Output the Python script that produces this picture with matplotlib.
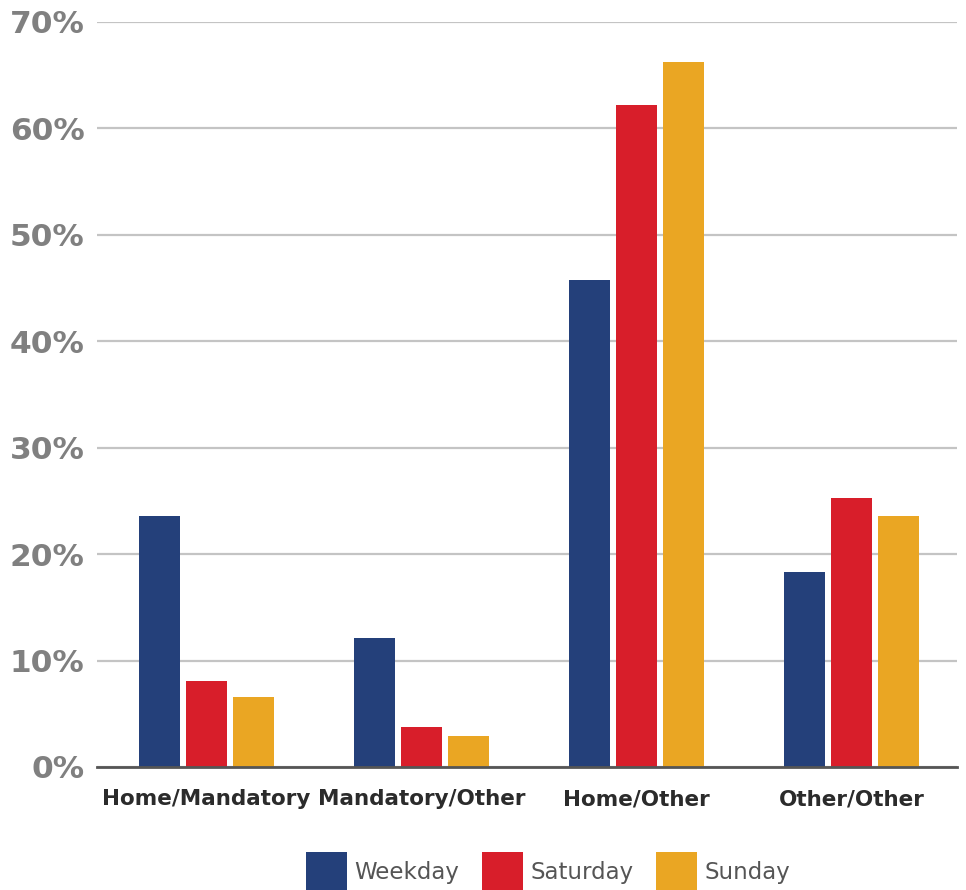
import matplotlib
matplotlib.use("Agg")
import matplotlib.pyplot as plt
import numpy as np

categories = ["Home/Mandatory", "Mandatory/Other", "Home/Other", "Other/Other"]
weekday = [23.6, 12.1, 45.8, 18.3]
saturday = [8.1, 3.8, 62.2, 25.3]
sunday = [6.6, 2.9, 66.2, 23.6]
series_names = ["Weekday", "Saturday", "Sunday"]
colors = ["#24407a", "#d81e2a", "#eaa623"]
yticks = [0, 10, 20, 30, 40, 50, 60, 70]
ytick_labels = ["0%", "10%", "20%", "30%", "40%", "50%", "60%", "70%"]

fig = plt.figure(figsize=(9.66, 8.9), dpi=100)
ax = fig.add_axes([97/966, 1-767/890, 860/966, 745/890])

x = np.arange(len(categories))
width = 0.19
pitch = 0.219
for i, (vals, name, c) in enumerate(zip([weekday, saturday, sunday], series_names, colors)):
    ax.bar(x + (i - 1) * pitch, vals, width=width, color=c, label=name, zorder=3)

ax.set_xlim(-0.51, 3.49)
ax.set_ylim(0, 70)
ax.set_yticks(yticks)
ax.set_yticklabels(ytick_labels)
ax.set_xticks(x)
ax.set_xticklabels(categories)
ax.grid(axis="y", color="#c4c4c4", linewidth=1.6, zorder=0)
ax.set_axisbelow(True)
for s in ["top", "right", "left"]:
    ax.spines[s].set_visible(False)
ax.spines["bottom"].set_color("#555555")
ax.spines["bottom"].set_linewidth(2.0)
ax.spines["bottom"].set_zorder(4)
ax.tick_params(axis="both", length=0)
ax.tick_params(axis="y", pad=9, labelsize=22.5, labelcolor="#808080")
ax.tick_params(axis="x", pad=16, labelsize=15.5, labelcolor="#2b2b2b")
for lab in ax.get_yticklabels():
    lab.set_fontweight("bold")
for lab in ax.get_xticklabels():
    lab.set_fontweight("bold")

leg = fig.legend(loc="center", bbox_to_anchor=(548/966, 1-872/890), ncol=3,
                 frameon=False, fontsize=16.5, handlelength=1.8, handleheight=2.3,
                 handletextpad=0.3, columnspacing=1.0, labelcolor="#555555")

fig.savefig("out.png", dpi=100)
